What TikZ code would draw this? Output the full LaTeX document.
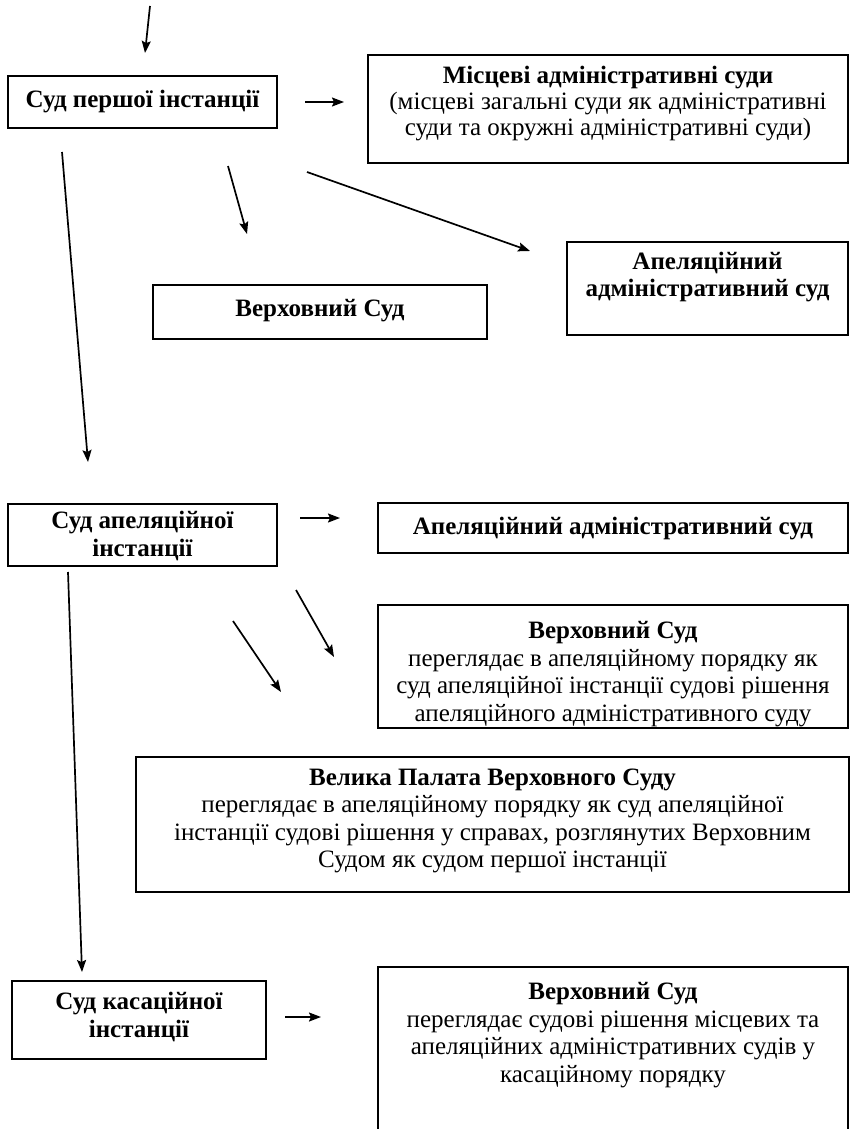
\documentclass[tikz,border=0pt]{standalone}
\usepackage{fontspec}
\setmainfont{Liberation Serif}
\usetikzlibrary{arrows.meta}
\begin{document}
\begin{tikzpicture}[x=1pt,y=-1pt,
  box/.style={draw, line width=1.8pt, inner sep=0pt},
  txt/.style={align=center, inner sep=0pt, font=\fontsize{25}{27.5}\selectfont},
  arr/.style={line width=1.7pt, -{Stealth[length=12pt,width=9pt,inset=2pt]}}]
\useasboundingbox (0,0) rectangle (852,1129);

% boxes
\node[box, minimum width=269pt, minimum height=52pt] (b1) at (142.5,102) {};
\node[box, minimum width=480pt, minimum height=108pt] (b2) at (608,109) {};
\node[box, minimum width=334pt, minimum height=54pt] (b3) at (320,312) {};
\node[box, minimum width=281pt, minimum height=93pt] (b4) at (707.5,288.5) {};
\node[box, minimum width=269pt, minimum height=62pt] (b5) at (142.5,535) {};
\node[box, minimum width=470pt, minimum height=50pt] (b6) at (613,528) {};
\node[box, minimum width=470pt, minimum height=123pt] (b7) at (613,666.5) {};
\node[box, minimum width=713pt, minimum height=135pt] (b8) at (492.5,824.5) {};
\node[box, minimum width=254pt, minimum height=78pt] (b9) at (139,1020) {};
\node[box, minimum width=470pt, minimum height=193pt] (b10) at (613,1063.5) {};

% texts
\node[txt] (t1) at (142.5,102) {\bfseries Суд першої інстанції};
\node[txt, font=\fontsize{25}{26}\selectfont] (t2) at (608,104) {\bfseries Місцеві адміністративні суди\\(місцеві загальні суди як адміністративні\\суди та окружні адміністративні суди)};
\node[txt] (t3) at (320,311) {\bfseries Верховний Суд};
\node[txt] (t4) at (707.5,277) {\bfseries Апеляційний\\\bfseries адміністративний суд};
\node[txt] (t5) at (142.5,536) {\bfseries Суд апеляційної\\\bfseries інстанції};
\node[txt] (t6) at (613,529) {\bfseries Апеляційний адміністративний суд};
\node[txt] (t7) at (613,674) {\bfseries Верховний Суд\\переглядає в апеляційному порядку як\\суд апеляційної інстанції судові рішення\\апеляційного адміністративного суду};
\node[txt] (t8) at (492.5,821) {\bfseries Велика Палата Верховного Суду\\переглядає в апеляційному порядку як суд апеляційної\\інстанції судові рішення у справах, розглянутих Верховним\\Судом як судом першої інстанції};
\node[txt] (t9) at (139,1017) {\bfseries Суд касаційної\\\bfseries інстанції};
\node[txt] (t10) at (613,1035) {\bfseries Верховний Суд\\переглядає судові рішення місцевих та\\апеляційних адміністративних судів у\\касаційному порядку};

% arrow end points
\coordinate (a0s) at (150,6);   \coordinate (a0e) at (145,53);
\coordinate (a1s) at (305,102); \coordinate (a1e) at (344,102);
\coordinate (a2s) at (62,152);  \coordinate (a2e) at (88,462);
\coordinate (a3s) at (228,166); \coordinate (a3e) at (247,234);
\coordinate (a4s) at (307,172); \coordinate (a4e) at (530,251);
\coordinate (a5s) at (300,518); \coordinate (a5e) at (340,518);
\coordinate (a6s) at (68,572);  \coordinate (a6e) at (82,972);
\coordinate (a7s) at (296,590); \coordinate (a7e) at (334,657);
\coordinate (a8s) at (233,621); \coordinate (a8e) at (281,692);
\coordinate (a9s) at (285,1017); \coordinate (a9e) at (321,1017);

\draw[arr] (a0s) -- (a0e);
\draw[arr] (a1s) -- (a1e);
\draw[arr] (a2s) -- (a2e);
\draw[arr] (a3s) -- (a3e);
\draw[arr] (a4s) -- (a4e);
\draw[arr] (a5s) -- (a5e);
\draw[arr] (a6s) -- (a6e);
\draw[arr] (a7s) -- (a7e);
\draw[arr] (a8s) -- (a8e);
\draw[arr] (a9s) -- (a9e);
\end{tikzpicture}
\end{document}
